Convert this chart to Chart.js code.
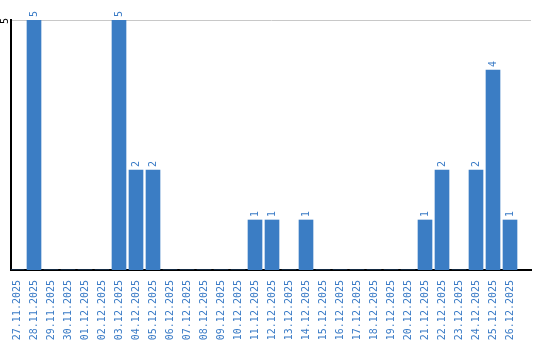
<!DOCTYPE html>
<html>
<head>
<meta charset="utf-8">
<script src="https://cdn.jsdelivr.net/npm/chart.js@4/dist/chart.umd.min.js"></script>
<style>
html,body{margin:0;padding:0;background:#fff;}
#wrap{width:540px;height:340px;}
</style>
</head>
<body>
<div id="wrap"><canvas id="c" width="540" height="340"></canvas></div>
<script>
const dateLabels = ["27.11.2025","28.11.2025","29.11.2025","30.11.2025","01.12.2025","02.12.2025","03.12.2025","04.12.2025","05.12.2025","06.12.2025","07.12.2025","08.12.2025","09.12.2025","10.12.2025","11.12.2025","12.12.2025","13.12.2025","14.12.2025","15.12.2025","16.12.2025","17.12.2025","18.12.2025","19.12.2025","20.12.2025","21.12.2025","22.12.2025","23.12.2025","24.12.2025","25.12.2025","26.12.2025"];
const counts = [0,5,0,0,0,0,5,2,2,0,0,0,0,0,1,1,0,1,0,0,0,0,0,0,1,2,0,2,4,1];
const yTickValues = [5];

const BLUE = '#3b7dc4';
const LABEL_BLUE = '#3a7bc6';
const FONT = 'DejaVu Sans Mono';

const overlay = {
  id: 'overlay',
  afterDatasetsDraw(chart) {
    const ctx = chart.ctx;
    const meta = chart.getDatasetMeta(0);
    ctx.save();
    ctx.font = '10px "' + FONT + '"';
    ctx.fillStyle = LABEL_BLUE;
    meta.data.forEach((bar, i) => {
      const v = counts[i];
      if (!v) return;
      ctx.save();
      ctx.translate(bar.x, bar.y - 3);
      ctx.rotate(-Math.PI / 2);
      ctx.textAlign = 'left';
      ctx.textBaseline = 'middle';
      ctx.fillText(String(v), 0, 0);
      ctx.restore();
    });
    const ys = chart.scales.y;
    ctx.fillStyle = '#000';
    yTickValues.forEach(v => {
      ctx.save();
      ctx.translate(5, ys.getPixelForValue(v) + 1);
      ctx.rotate(-Math.PI / 2);
      ctx.textAlign = 'center';
      ctx.textBaseline = 'middle';
      ctx.fillText(String(v), 0, 0);
      ctx.restore();
    });
    ctx.restore();
  }
};

new Chart(document.getElementById('c'), {
  type: 'bar',
  data: {
    datasets: [{
      data: counts.map((v, i) => ({x: i, y: v})),
      backgroundColor: BLUE,
      borderWidth: 0,
      barThickness: 14
    }]
  },
  options: {
    responsive: false,
    animation: false,
    layout: {padding: {top: 20, right: 9, left: 0, bottom: 0}},
    plugins: {legend: {display: false}, tooltip: {enabled: false}},
    scales: {
      x: {
        type: 'linear',
        offset: false,
        min: -6 / 17,
        max: 514 / 17,
        afterBuildTicks: s => { s.ticks = dateLabels.map((_, i) => ({value: i})); },
        afterFit: s => { s.height = 70; },
        grid: {display: false, drawTicks: false, offset: false},
        border: {display: true, color: '#000', width: 2},
        ticks: {
          autoSkip: false,
          minRotation: 90,
          maxRotation: 90,
          padding: 10,
          color: LABEL_BLUE,
          font: {family: FONT, size: 10},
          callback: v => dateLabels[v]
        }
      },
      y: {
        min: 0,
        max: 5,
        afterBuildTicks: s => { s.ticks = yTickValues.map(v => ({value: v})); },
        afterFit: s => { s.width = 11; },
        grid: {color: '#c8c8c8', lineWidth: 1, drawTicks: false},
        border: {display: true, color: '#000', width: 2},
        ticks: {display: false}
      }
    }
  },
  plugins: [overlay]
});
</script>
</body>
</html>
